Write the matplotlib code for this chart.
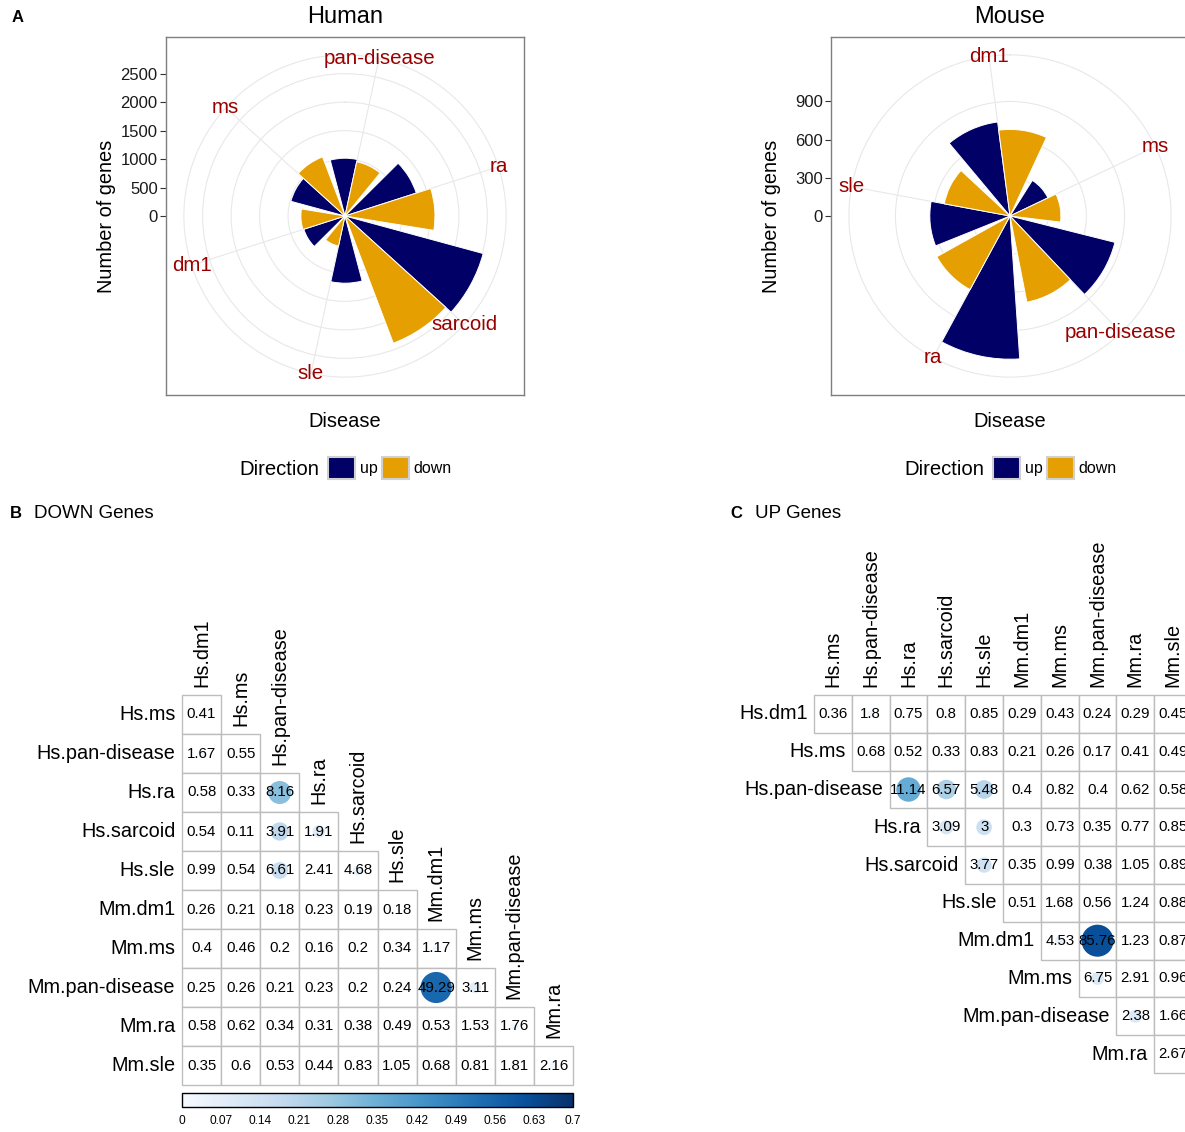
import numpy as np
import matplotlib.pyplot as plt
import matplotlib.patches as mpatches
from matplotlib.cm import ScalarMappable
from matplotlib.colors import Normalize

plt.rcParams['font.family'] = ['Liberation Sans', 'DejaVu Sans']

# --- gene counts per disease (rose charts) ---
human_disease = ['dm1', 'ms', 'pan-disease', 'ra', 'sarcoid', 'sle']
human_up = [760, 985, 1015, 1315, 2515, 1180]
human_down = [775, 1110, 975, 1580, 2390, 540]

mouse_disease = ['dm1', 'ms', 'pan-disease', 'ra', 'sle']
mouse_up = [745, 330, 850, 1125, 630]
mouse_down = [680, 400, 690, 658, 525]

# --- pairwise overlap between signatures ---
signatures = ['Hs.dm1', 'Hs.ms', 'Hs.pan-disease', 'Hs.ra', 'Hs.sarcoid', 'Hs.sle',
              'Mm.dm1', 'Mm.ms', 'Mm.pan-disease', 'Mm.ra', 'Mm.sle']

# DOWN genes, lower triangle: row i = signatures[i+1], columns signatures[0..i]
down_numbers = [
    [0.41],
    [1.67, 0.55],
    [0.58, 0.33, 8.16],
    [0.54, 0.11, 3.91, 1.91],
    [0.99, 0.54, 6.61, 2.41, 4.68],
    [0.26, 0.21, 0.18, 0.23, 0.19, 0.18],
    [0.4, 0.46, 0.2, 0.16, 0.2, 0.34, 1.17],
    [0.25, 0.26, 0.21, 0.23, 0.2, 0.24, 49.29, 3.11],
    [0.58, 0.62, 0.34, 0.31, 0.38, 0.49, 0.53, 1.53, 1.76],
    [0.35, 0.6, 0.53, 0.44, 0.83, 1.05, 0.68, 0.81, 1.81, 2.16],
]
down_circles = [
    [0.006],
    [0.03, 0.006],
    [0.006, 0.004, 0.30],
    [0.006, 0.002, 0.19, 0.09],
    [0.01, 0.006, 0.16, 0.02, 0.055],
    [0.005, 0.01, 0.003, 0.004, 0.004, 0.003],
    [0.005, 0.012, 0.003, 0.003, 0.003, 0.005, 0.025],
    [0.004, 0.01, 0.004, 0.004, 0.004, 0.004, 0.55, 0.075],
    [0.006, 0.008, 0.005, 0.005, 0.006, 0.006, 0.006, 0.012, 0.03],
    [0.004, 0.007, 0.006, 0.005, 0.008, 0.01, 0.008, 0.008, 0.02, 0.03],
]

# UP genes, upper triangle: row i = signatures[i], columns signatures[i+1..]
up_numbers = [
    [0.36, 1.8, 0.75, 0.8, 0.85, 0.29, 0.43, 0.24, 0.29, 0.45],
    [0.68, 0.52, 0.33, 0.83, 0.21, 0.26, 0.17, 0.41, 0.49],
    [11.14, 6.57, 5.48, 0.4, 0.82, 0.4, 0.62, 0.58],
    [3.09, 3, 0.3, 0.73, 0.35, 0.77, 0.85],
    [3.77, 0.35, 0.99, 0.38, 1.05, 0.89],
    [0.51, 1.68, 0.56, 1.24, 0.88],
    [4.53, 85.76, 1.23, 0.87],
    [6.75, 2.91, 0.96],
    [2.38, 1.66],
    [2.67],
]
up_circles = [
    [0.005, 0.025, 0.008, 0.008, 0.008, 0.004, 0.006, 0.003, 0.004, 0.006],
    [0.008, 0.006, 0.004, 0.008, 0.003, 0.004, 0.002, 0.01, 0.006],
    [0.36, 0.23, 0.21, 0.01, 0.008, 0.005, 0.008, 0.006],
    [0.12, 0.15, 0.004, 0.008, 0.004, 0.008, 0.008],
    [0.14, 0.004, 0.01, 0.005, 0.012, 0.008],
    [0.006, 0.012, 0.007, 0.015, 0.008],
    [0.05, 0.62, 0.015, 0.008],
    [0.10, 0.01, 0.01],
    [0.10, 0.02],
    [0.02],
]

NAVY = '#000066'
ORANGE = '#E69F00'
LABEL_RED = '#990000'
GRID = '#E8E8E8'
CELL_EDGE = '#BDBDBD'

W, H = 1185, 1132
fig = plt.figure(figsize=(W / 100, H / 100), dpi=100)


def rect(x0, y0, x1, y1):
    """pixel box (top-left origin) -> figure fraction rect"""
    return [x0 / W, 1 - y1 / H, (x1 - x0) / W, (y1 - y0) / H]


def rose(box, title, names, up, down, first_angle, step, legend_x):
    max_r = max(max(up), max(down))
    r_box = max_r / 0.8          # bars top out at 0.4 of the panel width
    r_out = max_r * 0.45 / 0.4   # outer grid circle and disease labels

    frame = fig.add_axes(rect(*box))
    frame.set_xlim(-r_box, r_box)
    frame.set_ylim(-r_box, r_box)
    frame.set_xticks([])
    frame.set_yticks(np.arange(0, max_r + 1, step))
    frame.tick_params(axis='y', length=4, width=0.8, color='#333333',
                      labelsize=12, labelcolor='#1a1a1a', pad=2)
    for sp in frame.spines.values():
        sp.set_color('#7F7F7F')
        sp.set_linewidth(1.0)
    frame.set_ylabel('Number of genes', fontsize=14.4, va='center')
    frame.yaxis.set_label_coords(-0.165, 0.5)
    frame.text(0.5, -0.073, 'Disease', transform=frame.transAxes,
               ha='center', va='center', fontsize=14.4)
    frame.text(0.5, 1 + 20 / 358, title, transform=frame.transAxes,
               ha='center', va='center', fontsize=17)

    x0, y0, x1, y1 = box
    cx, cy = (x0 + x1) / 2, (y0 + y1) / 2
    half = (x1 - x0) / 2 * 0.9
    pol = fig.add_axes(rect(cx - half, cy - half, cx + half, cy + half),
                       projection='polar')
    pol.set_facecolor('none')
    pol.set_theta_zero_location('N')
    pol.set_theta_direction(-1)
    pol.set_axisbelow(True)

    n = len(names)
    centers = np.deg2rad((first_angle + np.arange(n) * 360 / n) % 360)
    w = np.deg2rad(360 / n * 0.45)
    pol.bar(centers - w, up, width=w, align='edge', color=NAVY,
            edgecolor='white', linewidth=0.7)
    pol.bar(centers, down, width=w, align='edge', color=ORANGE,
            edgecolor='white', linewidth=0.7)
    pol.set_xlim(0, 2 * np.pi)
    pol.set_ylim(0, r_out)

    pol.set_xticks(centers)
    pol.set_xticklabels([])
    pol.set_yticks(np.arange(step, max_r + 1, step))
    pol.set_yticklabels([])
    pol.tick_params(length=0)
    pol.grid(True, color=GRID, linewidth=0.8)
    pol.spines['polar'].set_color(GRID)
    pol.spines['polar'].set_linewidth(0.8)
    for t, name in zip(centers, names):
        pol.text(t, r_out, name, ha='center', va='center', color=LABEL_RED,
                 fontsize=14.8, clip_on=False)

    # Direction legend under the panel
    handles = [mpatches.Patch(facecolor=NAVY, edgecolor='#D0D0D0', linewidth=1.5),
               mpatches.Patch(facecolor=ORANGE, edgecolor='#D0D0D0', linewidth=1.5)]
    fig.legend(handles, ['up', 'down'], ncol=2, loc='center left',
               bbox_to_anchor=(legend_x / W, 1 - 468 / H), frameon=False,
               fontsize=11.5, handlelength=1.7, handleheight=1.7,
               handletextpad=0.3, columnspacing=0.25, borderpad=0,
               borderaxespad=0)
    fig.text((legend_x - 9) / W, 1 - 469 / H, 'Direction', ha='right',
             va='center', fontsize=14.6)


rose((166, 37, 524, 395), 'Human', human_disease, human_up, human_down,
     252.2, 500, 328)
rose((831, 37, 1189, 395), 'Mouse', mouse_disease, mouse_up, mouse_down,
     352.5, 300, 993)

cmap = plt.get_cmap('Blues')
norm = Normalize(vmin=0, vmax=0.7)


def overlap_panel(box, row_names, col_names, numbers, circles, lower):
    ax = fig.add_axes(rect(*box))
    n = len(row_names)
    ax.set_xlim(0, n)
    ax.set_ylim(n, 0)
    ax.axis('off')
    for i, (vals, circs) in enumerate(zip(numbers, circles)):
        start = 0 if lower else i
        for k, (v, c) in enumerate(zip(vals, circs)):
            j = start + k
            ax.add_patch(mpatches.Rectangle((j, i), 1, 1, facecolor='white',
                                            edgecolor=CELL_EDGE, linewidth=1,
                                            clip_on=False))
            ax.add_patch(mpatches.Circle((j + 0.5, i + 0.5),
                                         0.45 * np.sqrt(c / 0.7),
                                         facecolor=cmap(norm(c)),
                                         edgecolor='none', clip_on=False))
            ax.text(j + 0.5, i + 0.5, f'{v:g}', ha='center', va='center',
                    fontsize=10.8, clip_on=False)
        ax.text(start - 0.17, i + 0.5, row_names[i], ha='right', va='center',
                fontsize=14.3)
    for j, name in enumerate(col_names):
        top = j if lower else 0
        ax.text(j + 0.5, top - 0.2, name, rotation=90, ha='center',
                va='bottom', fontsize=14.3)
    return ax


overlap_panel((182, 695, 573, 1085), signatures[1:], signatures[:-1],
              down_numbers, down_circles, lower=True)
overlap_panel((814, 695, 1192, 1073), signatures[:-1], signatures[1:],
              up_numbers, up_circles, lower=False)

cax = fig.add_axes(rect(182, 1093, 573, 1107))
cb = fig.colorbar(ScalarMappable(norm=norm, cmap=cmap), cax=cax,
                  orientation='horizontal')
ticks = [round(0.07 * k, 2) for k in range(11)]
cb.set_ticks(ticks)
cb.set_ticklabels([f'{t:g}' for t in ticks])
cax.tick_params(length=0, labelsize=8.6, pad=6)
cb.outline.set_edgecolor('black')
cb.outline.set_linewidth(1)

# panel tags
fig.text(12 / W, 1 - 17 / H, 'A', fontsize=12, fontweight='bold', va='center')
fig.text(10 / W, 1 - 513 / H, 'B', fontsize=12, fontweight='bold', va='center')
fig.text(34 / W, 1 - 513 / H, 'DOWN Genes', fontsize=13.5, va='center')
fig.text(730 / W, 1 - 513 / H, 'C', fontsize=12, fontweight='bold', va='center')
fig.text(755 / W, 1 - 513 / H, 'UP Genes', fontsize=13.5, va='center')

fig.savefig('out.png', dpi=100, facecolor='white')
